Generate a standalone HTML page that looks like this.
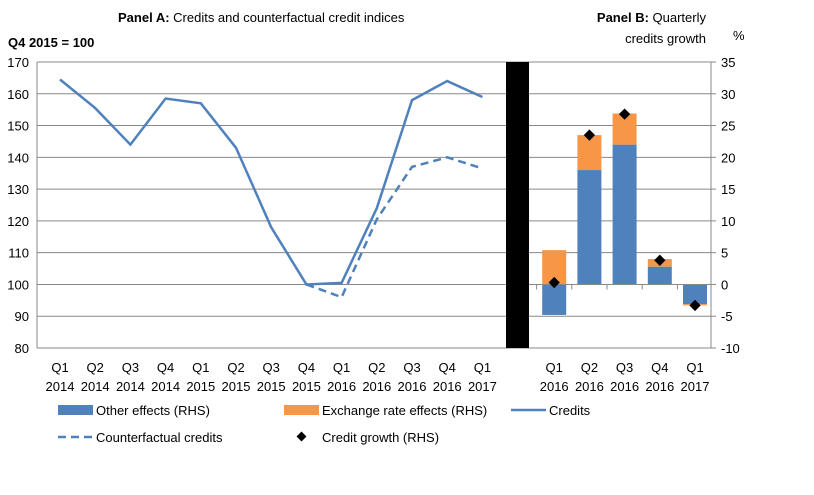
<!DOCTYPE html>
<html><head><meta charset="utf-8"><style>
body{margin:0;background:#fff;font-family:"Liberation Sans",sans-serif}
svg text{font-family:"Liberation Sans",sans-serif;font-size:13px;fill:#000}
</style></head><body>
<svg id="c" width="814" height="490"></svg>
<script>
const catsA=["Q1|2014","Q2|2014","Q3|2014","Q4|2014","Q1|2015","Q2|2015","Q3|2015","Q4|2015","Q1|2016","Q2|2016","Q3|2016","Q4|2016","Q1|2017"];
const credits=[164.5,155.5,144,158.5,157,143,118,100,100.5,124,158,164,159];
const counterfactual=[null,null,null,null,null,null,null,100,96,120.5,137,140,136.5];
const catsB=["Q1|2016","Q2|2016","Q3|2016","Q4|2016","Q1|2017"];
const otherEffects=[-4.8,18,22,2.8,-3.1];
const fxEffects=[5.4,5.5,4.9,1.2,-0.2];
const creditGrowth=[0.3,23.5,26.8,3.8,-3.3];
const leftTicks=[80,90,100,110,120,130,140,150,160,170];
const rightTicks=[-10,-5,0,5,10,15,20,25,30,35];
const NS="http://www.w3.org/2000/svg",svg=document.getElementById('c');
function mk(t,a,txt){const e=document.createElementNS(NS,t);for(const k in a)e.setAttribute(k,a[k]);if(txt!=null)e.textContent=txt;svg.appendChild(e);return e;}
const yTop=62,yBot=348;
const yL=v=>yBot-(v-80)/90*(yBot-yTop);
const yR=v=>yBot-(v+10)/45*(yBot-yTop);
const bw=35.2,xA0=42.4,xB0=536.6;
const xA=i=>xA0+bw*(i+0.5), xB=i=>xB0+bw*(i+0.5);
leftTicks.forEach(v=>{let g=mk('line',{x1:37,x2:711,y1:yL(v),y2:yL(v),stroke:'#888','stroke-width':1});


let t=mk('text',{x:29,y:yL(v)+5,'text-anchor':'end'},v);

});
rightTicks.forEach(v=>{let t=mk('text',{x:721,y:yR(v)+5},v);

});
mk('line',{x1:37,x2:37,y1:yTop,y2:yBot,stroke:'#888'});
mk('line',{x1:711,x2:711,y1:yTop,y2:yBot,stroke:'#888'});
for(let v of rightTicks){mk('line',{x1:711,x2:716,y1:yR(v),y2:yR(v),stroke:'#888'});}
let sep=mk('rect',{x:506,y:yTop,width:23,height:yBot-yTop,fill:'#000'});


catsA.forEach((c,i)=>{const [a,b]=c.split('|');let t=mk('text',{x:xA(i),y:372,'text-anchor':'middle'},a);


let t2=mk('text',{x:xA(i),y:391,'text-anchor':'middle'},b);

});
catsB.forEach((c,i)=>{const [a,b]=c.split('|');let t=mk('text',{x:xB(i),y:372,'text-anchor':'middle'},a);


let t2=mk('text',{x:xB(i),y:391,'text-anchor':'middle'},b);


mk('line',{x1:xB0+bw*i,x2:xB0+bw*i,y1:yR(0),y2:yR(0)+5,stroke:'#888'});});
otherEffects.forEach((v,i)=>{const x=xB(i)-12;
let r=mk('rect',{x:x,y:Math.min(yR(0),yR(v)),width:24,height:Math.abs(yR(v)-yR(0)),fill:'#4f81bd'});


const f=fxEffects[i];let b0,b1;
if(f>=0){b0=v>0?v:0;b1=b0+f;}else{b0=v<0?v:0;b1=b0+f;}
let r2=mk('rect',{x:x,y:Math.min(yR(b0),yR(b1)),width:24,height:Math.max(1,Math.abs(yR(b1)-yR(b0))),fill:'#f79646'});

});
mk('line',{x1:529,x2:711,y1:yR(0),y2:yR(0),stroke:'#888'});
creditGrowth.forEach((v,i)=>{let d=mk('rect',{x:xB(i)-4,y:yR(v)-4,width:8,height:8,fill:'#000',transform:`rotate(45 ${xB(i)} ${yR(v)})`});

});
let p=credits.map((v,i)=>(i?'L':'M')+xA(i)+' '+yL(v)).join(' ');
let l=mk('path',{d:p,fill:'none',stroke:'#4f81bd','stroke-width':2.5});


let pc='';counterfactual.forEach((v,i)=>{if(v!=null)pc+=(pc?'L':'M')+xA(i)+' '+yL(v)+' ';});
let l2=mk('path',{d:pc,fill:'none',stroke:'#4f81bd','stroke-width':2.5,'stroke-dasharray':'8,5'});


let t1=mk('text',{x:118,y:22});t1.innerHTML='<tspan font-weight="bold">Panel A:</tspan> Credits and counterfactual credit indices';


let t2=mk('text',{x:8,y:47,'font-weight':'bold'},'Q4 2015 = 100');


let t3=mk('text',{x:706,y:22,'text-anchor':'end'});t3.innerHTML='<tspan font-weight="bold">Panel B:</tspan> Quarterly';


mk('text',{x:706,y:43,'text-anchor':'end'},'credits growth');
let t4=mk('text',{x:733,y:40},'%');


function leg(name,x,y,type,label){let g;
if(type==='bar1')g=mk('rect',{x:x,y:y-6,width:35,height:10,fill:'#4f81bd'});
else if(type==='bar2')g=mk('rect',{x:x,y:y-6,width:35,height:10,fill:'#f79646'});
else if(type==='line')g=mk('line',{x1:x,x2:x+35,y1:y-1,y2:y-1,stroke:'#4f81bd','stroke-width':2.5});
else if(type==='dash')g=mk('line',{x1:x,x2:x+35,y1:y-1,y2:y-1,stroke:'#4f81bd','stroke-width':2.5,'stroke-dasharray':'8,5'});
else g=mk('rect',{x:x+14,y:y-5,width:7,height:7,fill:'#000',transform:`rotate(45 ${x+17.5} ${y-1.5})`});


let t=mk('text',{x:x+38,y:y+4},label);

}
leg('other-effects',58,411,'bar1','Other effects (RHS)');
leg('exchange-rate',284,411,'bar2','Exchange rate effects (RHS)');
leg('credits',511,411,'line','Credits');
leg('counterfactual',58,438,'dash','Counterfactual credits');
leg('credit-growth',284,438,'dia','Credit growth (RHS)');
</script></body></html>
